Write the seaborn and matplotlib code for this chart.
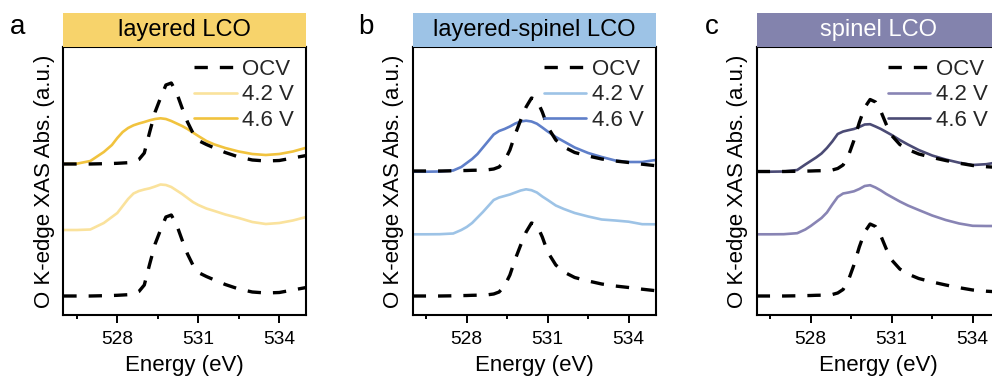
import matplotlib
matplotlib.use("Agg")
import matplotlib.pyplot as plt
from matplotlib.patches import Rectangle
from matplotlib.lines import Line2D
from matplotlib.ticker import FixedLocator, FixedFormatter
import seaborn as sns

# Photon energy grid (eV), shared by all spectra
energy = [526.0, 526.5, 527.0, 527.5, 527.8, 528.0, 528.2, 528.4, 528.6, 528.8,
          529.0, 529.2, 529.4, 529.6, 529.8, 530.0, 530.2, 530.4, 530.6, 530.8,
          531.0, 531.3, 531.6, 532.0, 532.5, 533.0, 533.5, 534.0, 534.5, 535.0]

# --- layered LCO ---
ocv_a = [19, 19, 19, 19.3, 19.5, 19.7, 20, 20.3, 21, 23.5,
         30, 51, 71, 85, 98, 100, 90, 75, 61, 50,
         42.5, 38.5, 35, 30.5, 26, 23, 22, 22.5, 25, 27.5]
v42_a = [85, 85, 85.5, 92, 98, 102, 109, 116, 121.5, 124,
         125.5, 126.7, 128.5, 130.5, 130, 128, 124.5, 121, 117, 113,
         110, 106.5, 104, 100.5, 97, 93, 91, 92, 94.5, 98]
v46_a = [151, 151.3, 154, 163, 170, 177, 183, 187, 189.7, 191.5,
         193, 194.7, 196, 196.7, 196, 194, 191.5, 189, 186, 182.5,
         179, 174, 170.5, 167, 163.5, 161, 160, 161, 163.5, 167.3]

# --- layered-spinel LCO ---
ocv_b = [19, 19, 19, 19.2, 19.4, 19.5, 19.7, 19.8, 20, 20.3,
         21, 23, 29, 40, 56, 70, 83, 92, 90, 78,
         63, 50, 43, 37.5, 34, 31, 29, 27.5, 25.8, 24.3]
v42_b = [80.7, 80.7, 80.8, 81.5, 85, 88, 92, 97.5, 103, 109,
         115, 117.5, 119, 120.5, 122.5, 124.5, 125.7, 124.8, 122.5, 118.5,
         115, 109.5, 106, 102, 98.5, 95.5, 94.5, 93.3, 90.8, 90.7]
v46_b = [143.3, 143.3, 143.5, 144.5, 148, 152, 156, 161, 167.5, 174,
         180.5, 184, 186, 188.5, 191.5, 193.5, 194.3, 193.5, 191.3, 187.5,
         183.5, 178, 173.5, 167.5, 162, 158, 154.5, 153, 153, 155]

# --- spinel LCO ---
ocv_c = [19, 19, 19, 19.2, 19.4, 19.5, 19.7, 19.8, 20, 20.5,
         22, 25.5, 35, 50, 68, 83, 91, 88.5, 79, 66,
         55, 46, 41, 36.5, 33, 30, 27.3, 25, 23.8, 23]
v42_c = [80.7, 80.7, 80.8, 81.8, 85.5, 89, 93, 97, 102.5, 110.5,
         118, 121.5, 122.5, 123.7, 126, 129, 129.8, 127.5, 124.5, 121,
         118, 113.5, 109.5, 105, 99.5, 95, 91.5, 89.2, 89, 89]
v46_c = [143.3, 143.3, 143.5, 145, 150.5, 154, 157.5, 161.5, 167, 173.5,
         181, 183.5, 184.8, 186, 188, 190.5, 190.8, 188.5, 186, 183,
         180, 175, 170.5, 165, 159.5, 155.5, 152.3, 150, 150.8, 153]

# vertical shift of the OCV reference overlaid on the 4.6 V spectrum
ocv_shift = [132, 125, 124.5]

ocv_curves = [ocv_a, ocv_b, ocv_c]
v42_curves = [v42_a, v42_b, v42_c]
v46_curves = [v46_a, v46_b, v46_c]

panel_titles = ["layered LCO", "layered-spinel LCO", "spinel LCO"]
panel_letters = ["a", "b", "c"]
header_colors = ["#F7D36B", "#9DC3E6", "#8383AD"]
header_text_colors = ["black", "black", "white"]
color_42 = ["#FAE29C", "#9DC3E6", "#8884B4"]
color_46 = ["#F1C33E", "#5F7FC9", "#4B4B75"]
legend_labels = ["OCV", "4.2 V", "4.6 V"]
major_ticks = [528, 531, 534]
minor_ticks = [526.5, 529.5, 532.5]
tick_labels = ["528", "531", "534"]

sns.set_theme(style="ticks")
plt.rcParams["font.family"] = ["Liberation Sans", "DejaVu Sans"]

W, H = 992, 383
fig = plt.figure(figsize=(W / 100, H / 100), dpi=100)

ax_left_px = [63.3, 412.7, 756.7]
ax_w_px = 243.0
ax_bottom_px = 68.0
ax_h_px = 268.3
header_h = 34.0 / ax_h_px
letter_x_px = [10, 358, 705]

dash = (0, (4, 3.6))

for i in range(3):
    ax = fig.add_axes([ax_left_px[i] / W, ax_bottom_px / H, ax_w_px / W, ax_h_px / H])
    ocv_top = [v + ocv_shift[i] for v in ocv_curves[i]]

    sns.lineplot(x=energy, y=v42_curves[i], ax=ax, color=color_42[i], lw=1.9)
    sns.lineplot(x=energy, y=v46_curves[i], ax=ax, color=color_46[i], lw=1.9)
    sns.lineplot(x=energy, y=ocv_curves[i], ax=ax, color="black", lw=2.4, linestyle=dash)
    sns.lineplot(x=energy, y=ocv_top, ax=ax, color="black", lw=2.4, linestyle=dash)

    ax.set_xlim(526, 535)
    ax.set_ylim(0, ax_h_px)
    ax.set_yticks([])
    ax.xaxis.set_major_locator(FixedLocator(major_ticks))
    ax.xaxis.set_major_formatter(FixedFormatter(tick_labels))
    ax.xaxis.set_minor_locator(FixedLocator(minor_ticks))
    ax.tick_params(axis="x", which="major", direction="out", length=5.5, width=1.4,
                   pad=6, labelsize=13.8, color="black", labelcolor="black")
    ax.tick_params(axis="x", which="minor", direction="out", length=3, width=1.4, color="black")
    for side in ["left", "right", "bottom", "top"]:
        ax.spines[side].set_visible(True)
        ax.spines[side].set_color("black")
        ax.spines[side].set_linewidth(1.5)

    ax.set_xlabel("Energy (eV)", fontsize=16, labelpad=5, color="black")
    ax.set_ylabel("O K-edge XAS Abs. (a.u.)", fontsize=16, labelpad=6, color="black")

    # coloured header strip with sample name
    ax.add_patch(Rectangle((0, 1.0), 1.0, header_h, transform=ax.transAxes,
                           facecolor=header_colors[i], edgecolor="none", clip_on=False, zorder=3))
    ax.text(0.5, 1.0 + header_h / 2, panel_titles[i], transform=ax.transAxes,
            ha="center", va="center", fontsize=17, color=header_text_colors[i], zorder=4)

    handles = [
        Line2D([], [], color="black", lw=2.4, linestyle=dash),
        Line2D([], [], color=color_42[i], lw=1.9),
        Line2D([], [], color=color_46[i], lw=1.9),
    ]
    ax.legend(handles=handles, labels=legend_labels, loc="upper right",
              bbox_to_anchor=(1.0, 1.0), frameon=False, fontsize=16,
              handlelength=1.9, handletextpad=0.25, labelspacing=0.2,
              borderaxespad=0.25, borderpad=0.3)

    fig.text(letter_x_px[i] / W, 1 - 33.5 / H, panel_letters[i], fontsize=20,
             ha="left", va="baseline", color="black")

fig.savefig("out.png", dpi=100)
